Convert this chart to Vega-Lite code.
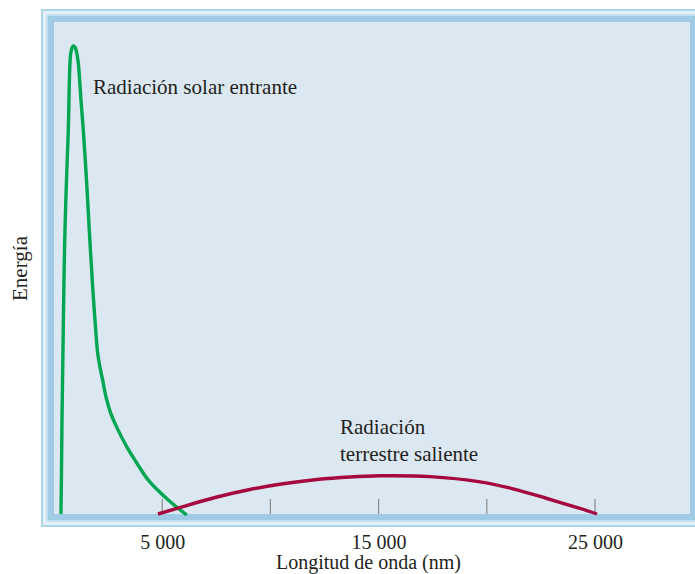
{
  "$schema": "https://vega.github.io/schema/vega-lite/v6.json",
  "autosize": "none",
  "width": 654,
  "height": 518,
  "padding": {"left": 41, "top": 9, "right": 0, "bottom": 47},
  "background": "white",
  "config": {"view": {"stroke": null}, "font": "Liberation Serif"},
  "datasets": {
    "frame": [
      {"band": "a", "x": -600, "x2": 29990, "y": -2.642, "y2": 102.642},
      {"band": "b", "x": -508, "x2": 29898, "y": -2.235, "y2": 102.235},
      {"band": "c", "x": -369, "x2": 29759, "y": -1.626, "y2": 101.626},
      {"band": "d", "x": -277, "x2": 29667, "y": -1.219, "y2": 101.219},
      {"band": "e", "x": 0, "x2": 29390, "y": 0, "y2": 100}
    ],
    "ticks": [
      {"x": 5000, "y": 0, "y2": 3.05},
      {"x": 10000, "y": 0, "y2": 3.05},
      {"x": 15000, "y": 0, "y2": 3.05},
      {"x": 20000, "y": 0, "y2": 3.05},
      {"x": 25000, "y": 0, "y2": 3.05}
    ],
    "solar": [
      {"x": 323, "y": 0},
      {"x": 347, "y": 8.9},
      {"x": 370, "y": 19.1},
      {"x": 416, "y": 33.3},
      {"x": 462, "y": 47.6},
      {"x": 508, "y": 57.7},
      {"x": 578, "y": 67.9},
      {"x": 661, "y": 78.0},
      {"x": 739, "y": 91.7},
      {"x": 786, "y": 93.9},
      {"x": 878, "y": 95.1},
      {"x": 970, "y": 94.9},
      {"x": 1040, "y": 93.9},
      {"x": 1123, "y": 91.7},
      {"x": 1248, "y": 84.1},
      {"x": 1354, "y": 78.0},
      {"x": 1502, "y": 67.9},
      {"x": 1631, "y": 57.7},
      {"x": 1788, "y": 46.1},
      {"x": 1895, "y": 39.4},
      {"x": 2019, "y": 32.7},
      {"x": 2149, "y": 29.3},
      {"x": 2250, "y": 27.2},
      {"x": 2403, "y": 23.8},
      {"x": 2620, "y": 20.5},
      {"x": 2957, "y": 17.1},
      {"x": 3359, "y": 13.7},
      {"x": 3835, "y": 10.3},
      {"x": 4358, "y": 6.9},
      {"x": 5282, "y": 2.85},
      {"x": 6132, "y": -0.2}
    ],
    "terrestrial": [
      {"x": 4806, "y": 0},
      {"x": 5961, "y": 1.52},
      {"x": 7532, "y": 3.46},
      {"x": 9057, "y": 4.98},
      {"x": 10582, "y": 6.14},
      {"x": 12154, "y": 7.01},
      {"x": 13678, "y": 7.52},
      {"x": 15064, "y": 7.76},
      {"x": 17375, "y": 7.6},
      {"x": 19685, "y": 6.54},
      {"x": 21210, "y": 5.12},
      {"x": 22781, "y": 3.15},
      {"x": 24306, "y": 1.12},
      {"x": 25092, "y": 0}
    ],
    "labels": [
      {"x": 1802, "y": 86.6, "text": "Radiación solar entrante"},
      {"x": 13216, "y": 17.5, "text": "Radiación"},
      {"x": 13216, "y": 12.0, "text": "terrestre saliente"}
    ]
  },
  "encoding": {
    "x": {
      "field": "x", "type": "quantitative",
      "scale": {"domain": [-600, 29620], "nice": false, "zero": false},
      "axis": {
        "values": [5000, 15000, 25000],
        "labelExpr": "replace(format(datum.value, ','), ',', ' ')",
        "domain": false, "ticks": false, "tickSize": 0, "grid": false,
        "labelFont": "Liberation Serif", "labelFontSize": 20, "labelColor": "#231f20",
        "labelPadding": 5,
        "title": "Longitud de onda (nm)",
        "titleFont": "Liberation Serif", "titleFontSize": 20, "titleFontWeight": "normal",
        "titleColor": "#231f20", "titlePadding": 0
      }
    },
    "y": {
      "field": "y", "type": "quantitative",
      "scale": {"domain": [-2.642, 102.642], "nice": false, "zero": false},
      "axis": {
        "labels": false, "domain": false, "ticks": false, "tickSize": 0, "grid": false,
        "title": "Energía",
        "titleFont": "Liberation Serif", "titleFontSize": 21, "titleFontWeight": "normal",
        "titleColor": "#231f20", "titlePadding": 11
      }
    }
  },
  "layer": [
    {
      "data": {"name": "frame"},
      "mark": {"type": "rect", "clip": true},
      "encoding": {
        "x2": {"field": "x2"},
        "y2": {"field": "y2"},
        "color": {
          "field": "band", "type": "nominal", "legend": null,
          "scale": {"domain": ["a", "b", "c", "d", "e"], "range": ["#aed4ea", "#e4f0f8", "#c2dfef", "#9fcbe4", "#dbe7f1"]}
        }
      }
    },
    {
      "data": {"name": "ticks"},
      "mark": {"type": "rule", "color": "#8a8a8a", "strokeWidth": 1.2},
      "encoding": {"y2": {"field": "y2"}}
    },
    {
      "data": {"name": "solar"},
      "mark": {"type": "line", "color": "#00a651", "strokeWidth": 3.4, "interpolate": "catmull-rom", "clip": true},
      "encoding": {"order": {"field": "x", "type": "quantitative"}}
    },
    {
      "data": {"name": "terrestrial"},
      "mark": {"type": "line", "color": "#a6093d", "strokeWidth": 3.4, "interpolate": "catmull-rom", "clip": true},
      "encoding": {"order": {"field": "x", "type": "quantitative"}}
    },
    {
      "data": {"name": "labels"},
      "mark": {"type": "text", "align": "left", "baseline": "middle", "font": "Liberation Serif", "fontSize": 21, "color": "#231f20"},
      "encoding": {"text": {"field": "text"}}
    }
  ]
}
